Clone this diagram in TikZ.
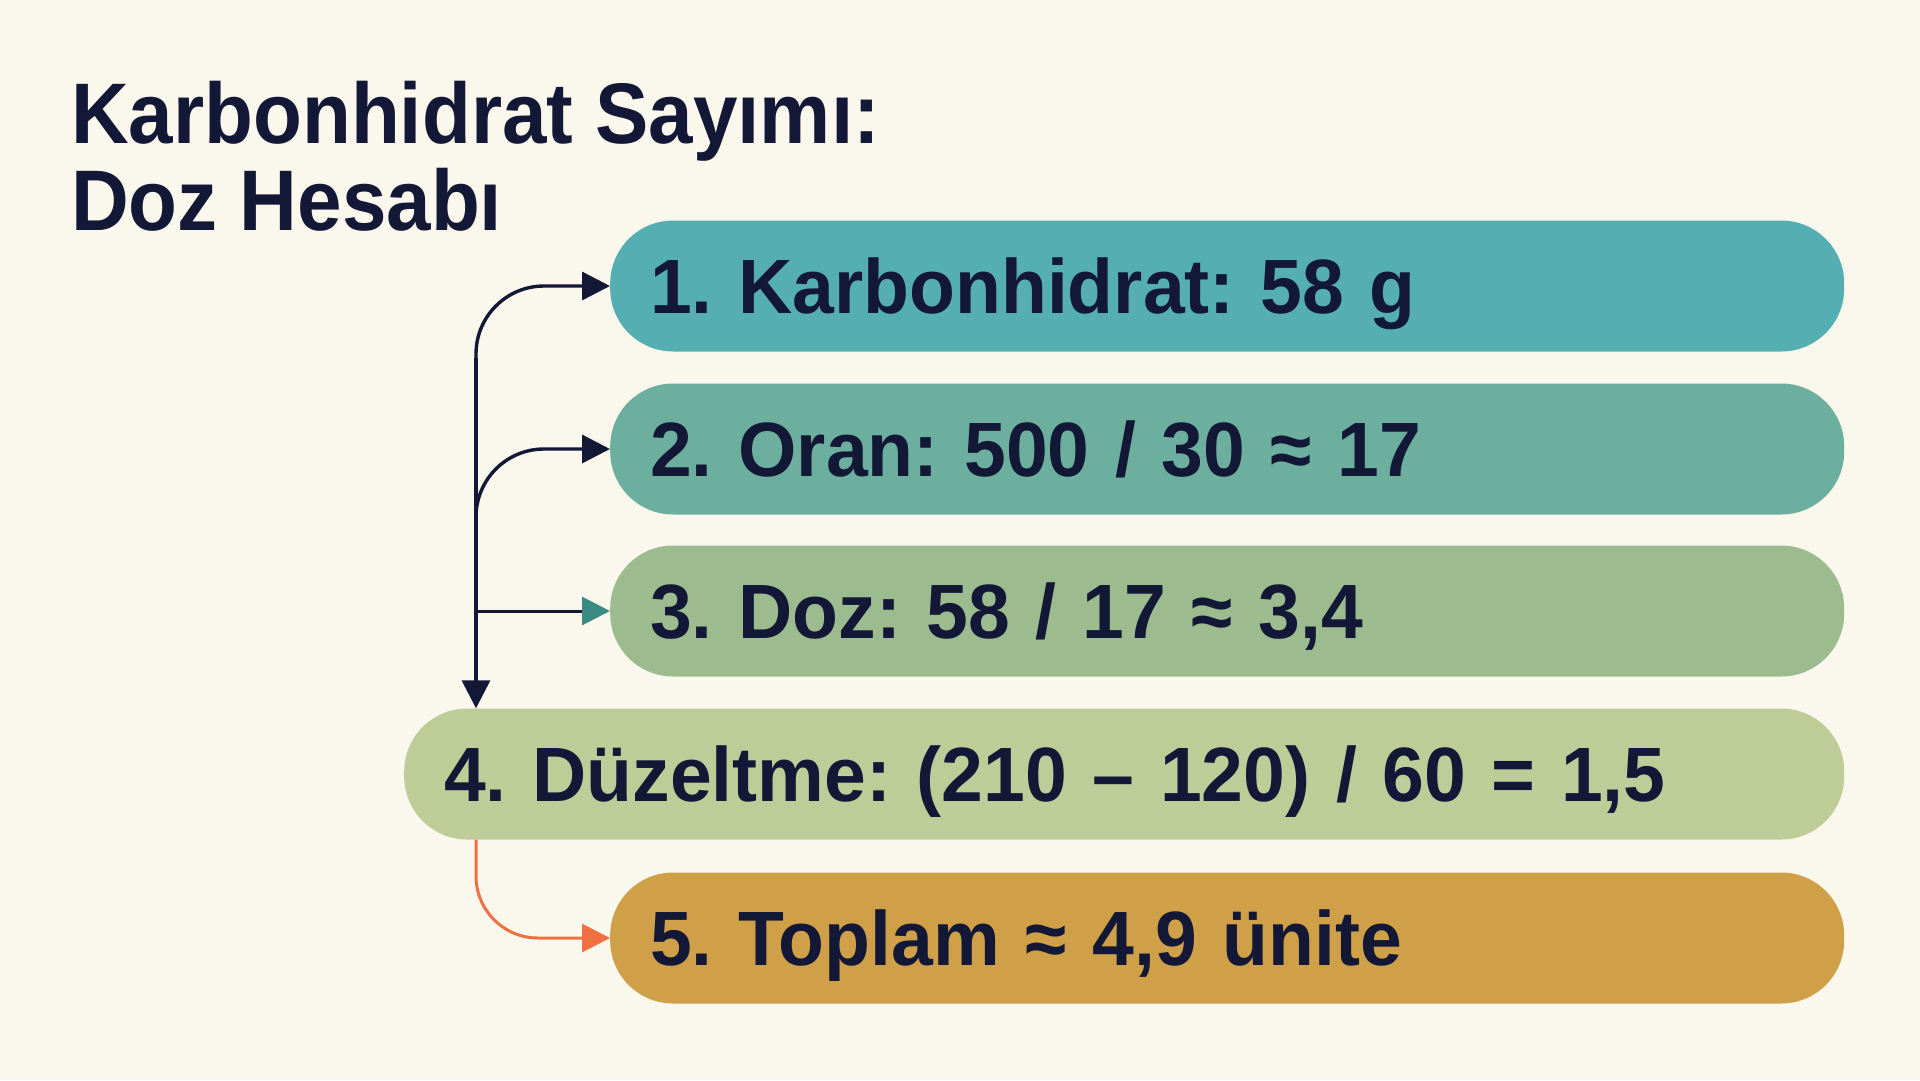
\documentclass[tikz,border=0pt]{standalone}
\usepackage{fontspec}
\setmainfont{Liberation Sans}[FakeStretch=0.975]
\newfontfamily\titlefont{Liberation Sans}[FakeStretch=0.93]
\usetikzlibrary{arrows.meta}
\definecolor{bgc}{HTML}{FAF7EC}
\definecolor{navy}{HTML}{121836}
\definecolor{cone}{HTML}{54AEB2}
\definecolor{ctwo}{HTML}{6DAF9F}
\definecolor{cthree}{HTML}{9CBB8E}
\definecolor{cfour}{HTML}{BECC98}
\definecolor{cfive}{HTML}{D0A048}
\definecolor{tealhead}{HTML}{3B8A84}
\definecolor{orangeln}{HTML}{F07042}
\frenchspacing
\tikzset{
  stepbox/.style={draw=none, rounded corners=63pt, minimum height=131pt,
    anchor=west, inner xsep=40pt, inner ysep=0pt, align=left,
    text height=55pt, text depth=0pt, text=navy,
    font=\bfseries\fontsize{77}{90}\selectfont},
  titletext/.style={anchor=base west, inner sep=0pt, text=navy,
    font=\titlefont\bfseries\fontsize{86}{87}\selectfont},
  conn/.style={draw=navy, line width=3.4pt},
  tip/.style={-{Triangle[length=28pt,width=28pt]}},
}
\begin{document}
\begin{tikzpicture}[x=1pt,y=-1pt]
\fill[bgc] (0,0) rectangle (1920,1080);
\useasboundingbox (0,0) rectangle (1920,1080);

\node[titletext] (title1) at (71,143) {Karbonhidrat Sayımı:};
\node[titletext] (title2) at (71,230) {Doz Hesabı};

\node[stepbox, fill=cone, minimum width=1234pt, text width=1154pt] (b1) at (610,286) {1. Karbonhidrat: 58 g};
\node[stepbox, fill=ctwo, minimum width=1234pt, text width=1154pt] (b2) at (610,449) {2. Oran: 500 / 30 ≈ 17};
\node[stepbox, fill=cthree, minimum width=1234pt, text width=1154pt] (b3) at (610,611) {3. Doz: 58 / 17 ≈ 3,4};
\node[stepbox, fill=cfour, minimum width=1440pt, text width=1360pt] (b4) at (404,774) {4. Düzeltme: (210 – 120) / 60 = 1,5};
\node[stepbox, fill=cfive, minimum width=1234pt, text width=1154pt] (b5) at (610,938) {5. Toplam ≈ 4,9 ünite};

\coordinate (t1) at (476,358);
\coordinate (t2) at (476,520);

\draw[conn, tip] (t1) -- (t1 |- b4.north);
\draw[conn, tip, rounded corners=68pt] (t1) |- (b1.west);
\draw[conn, tip, rounded corners=68pt] (t2) |- (b2.west);
\draw[conn, line width=3pt, -{Triangle[length=28pt,width=28pt,color=tealhead]}] (t1 |- b3.west) -- (b3.west);
\draw[draw=orangeln, line width=3pt, -{Triangle[length=28pt,width=28pt]}, rounded corners=62pt] (t1 |- b4.south) |- (b5.west);
\end{tikzpicture}
\end{document}
